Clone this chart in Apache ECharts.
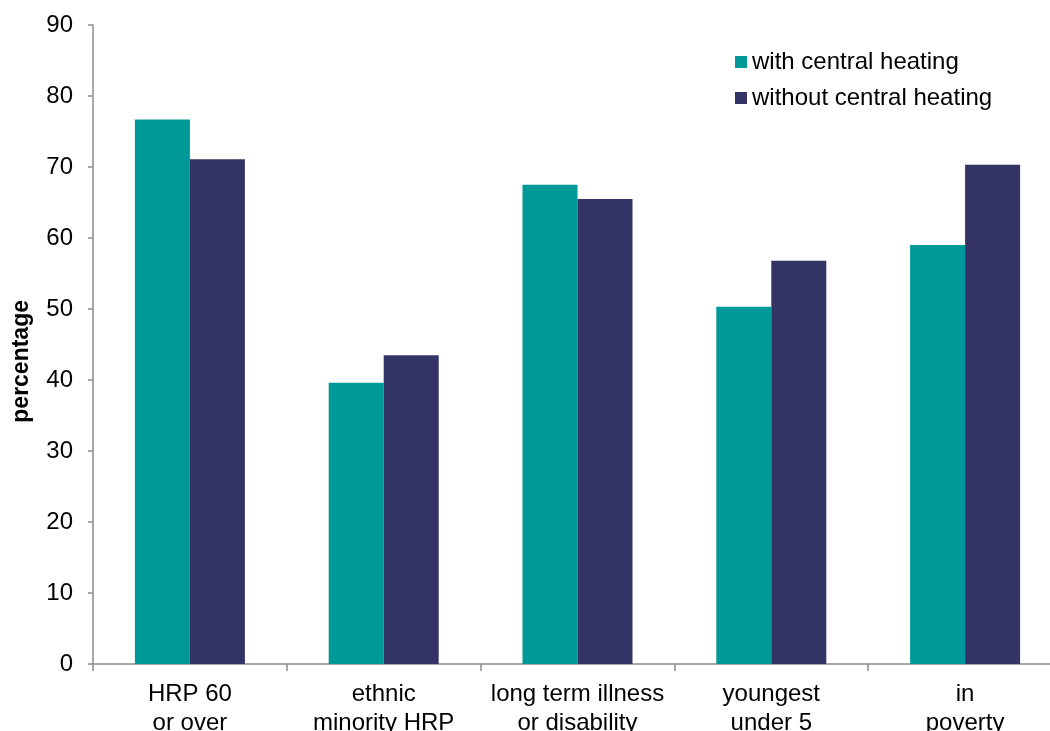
<!DOCTYPE html>
<html lang="en">
<head>
    <meta charset="UTF-8">
    <title>central heating chart</title>
    <style>
        html, body { margin: 0; padding: 0; background: #fff; }
        #chart { width: 1050px; height: 731px; }
    </style>
</head>
<body>
    <div id="chart"></div>
</body>
<script src="https://cdn.jsdelivr.net/npm/echarts@6/dist/echarts.min.js"></script>
<script>
    // data
    const categories = ['HRP 60\nor over', 'ethnic\nminority HRP', 'long term illness\nor disability', 'youngest\nunder 5', 'in\npoverty']
    const withHeating = [76.7, 39.6, 67.5, 50.3, 59.0]
    const withoutHeating = [71.1, 43.5, 65.5, 56.8, 70.3]
    const seriesNames = ['with central heating', 'without central heating']

    const font = 'Liberation Sans, Arial, sans-serif'
    const axisGrey = '#8c8c8c'

    let chart = echarts.init(document.getElementById('chart'))

    chart.setOption({
        animation: false,
        textStyle: { fontFamily: font },
        grid: { left: 93, right: -12, top: 25, bottom: 67, containLabel: false, outerBoundsMode: 'none' },
        legend: {
            orient: 'vertical',
            left: 730,
            top: 45,
            itemWidth: 12,
            itemHeight: 12,
            itemGap: 12,
            icon: 'rect',
            textStyle: { fontSize: 24, color: '#000', fontFamily: font },
            data: seriesNames
        },
        graphic: [{
            type: 'text',
            left: 10,
            top: 300,
            rotation: Math.PI / 2,
            style: { text: 'percentage', font: 'bold 23px ' + font, fill: '#000' }
        }],
        xAxis: {
            type: 'category',
            data: categories,
            axisLine: { lineStyle: { color: axisGrey, width: 1.5 } },
            axisTick: { show: true, length: 7, alignWithLabel: false, lineStyle: { color: axisGrey, width: 1.5 } },
            axisLabel: { fontSize: 24, color: '#000', lineHeight: 29, margin: 16, fontFamily: font, interval: 0 }
        },
        yAxis: {
            type: 'value',
            min: 0,
            max: 90,
            interval: 10,
            splitLine: { show: false },
            axisLine: { show: true, lineStyle: { color: axisGrey, width: 1.5 } },
            axisTick: { show: true, length: 5, lineStyle: { color: axisGrey, width: 1.5 } },
            axisLabel: { fontSize: 24, color: '#000', margin: 20, fontFamily: font }
        },
        series: [
            {
                name: seriesNames[0],
                type: 'bar',
                data: withHeating,
                barWidth: 55,
                barGap: '0%',
                itemStyle: { color: '#009999' }
            },
            {
                name: seriesNames[1],
                type: 'bar',
                data: withoutHeating,
                barWidth: 55,
                barGap: '0%',
                itemStyle: { color: '#333366' }
            }
        ]
    })
</script>
</html>
